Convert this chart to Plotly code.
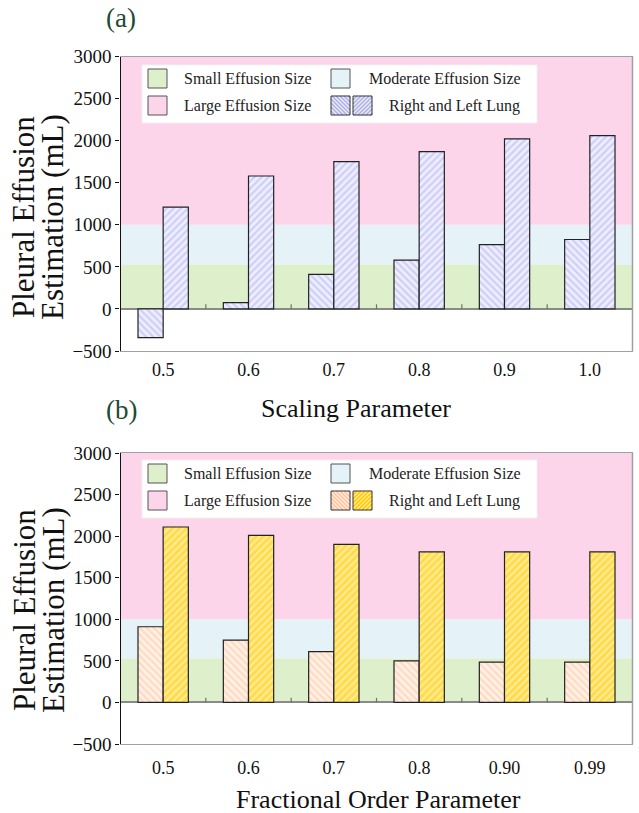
import plotly.graph_objects as go

# ---------------- data ----------------
scaling_cats = ["0.5", "0.6", "0.7", "0.8", "0.9", "1.0"]
scaling_right = [-340, 75, 410, 580, 765, 825]
scaling_left = [1210, 1580, 1750, 1870, 2020, 2060]

frac_cats = ["0.5", "0.6", "0.7", "0.8", "0.90", "0.99"]
frac_right = [910, 750, 610, 500, 485, 485]
frac_left = [2110, 2010, 1900, 1810, 1810, 1810]

zone_edges = [0, 530, 1000, 3000]
zone_names = ["Small Effusion Size", "Moderate Effusion Size", "Large Effusion Size"]
zone_colors = ["#DEF0CB", "#E5F3F8", "#FDD5EB"]

y_range = [-500, 3000]
y_tick_step = 500

W, H = 639, 813
FONT = "Liberation Serif, Times New Roman, serif"


def px_x(p):
    return p / W


def px_y(p):
    return 1 - p / H


def clip_seg(ax_, ay_, bx_, by_, size):
    t0, t1 = 0.0, 1.0
    dx, dy = bx_ - ax_, by_ - ay_
    for pp, q in ((-dx, ax_), (dx, size - ax_), (-dy, ay_), (dy, size - ay_)):
        if pp == 0:
            if q < 0:
                return None
        else:
            r = q / pp
            if pp < 0:
                t0 = max(t0, r)
            else:
                t1 = min(t1, r)
    if t0 >= t1:
        return None
    return (ax_ + t0 * dx, ay_ + t0 * dy, ax_ + t1 * dx, ay_ + t1 * dy)


# panel geometry in pixels
PLOT_L, PLOT_R = 120.5, 632.5
panels = [
    dict(top=56.5, bottom=351, xa="x", ya="y", cats=scaling_cats,
         right=scaling_right, left=scaling_left,
         r_fg="#AFAFF0", r_bg="#EEEEFF", l_fg="#AFAFF0", l_bg="#EEEEFF", sol_l=0.45,
         label="(a)", label_y=18, xtitle="Scaling Parameter", xtitle_x=356, xtitle_y=409,
         ytitle_y=217, tickstand=2, leg_top=65),
    dict(top=453, bottom=744, xa="x2", ya="y2", cats=frac_cats,
         right=frac_right, left=frac_left,
         r_fg="#FFC29B", r_bg="#FFF1E6", l_fg="#FFC800", l_bg="#FFEE9A", sol_l=0.62,
         label="(b)", label_y=410, xtitle="Fractional Order Parameter", xtitle_x=378, xtitle_y=799,
         ytitle_y=610, tickstand=7, leg_top=460),
]

fig = go.Figure()
shapes = []
annotations = []

for i, p in enumerate(panels):
    sfx = "" if i == 0 else "2"
    xa, ya = p["xa"], p["ya"]
    fig.add_trace(go.Bar(
        x=p["cats"], y=p["right"], xaxis=xa, yaxis=ya, showlegend=False,
        marker=dict(color=p["r_bg"], line=dict(color="#222222", width=1.2),
                    pattern=dict(shape="\\", fgcolor=p["r_fg"], bgcolor=p["r_bg"],
                                 size=5, solidity=0.45)),
    ))
    fig.add_trace(go.Bar(
        x=p["cats"], y=p["left"], xaxis=xa, yaxis=ya, showlegend=False,
        marker=dict(color=p["l_bg"], line=dict(color="#222222", width=1.2),
                    pattern=dict(shape="/", fgcolor=p["l_fg"], bgcolor=p["l_bg"],
                                 size=5, solidity=p["sol_l"])),
    ))

    dom_y = [px_y(p["bottom"]), px_y(p["top"])]
    fig.layout["xaxis" + sfx] = dict(
        domain=[px_x(PLOT_L), px_x(PLOT_R)], anchor=ya, type="category",
        categoryorder="array", categoryarray=p["cats"],
        showline=True, mirror=True, linecolor="#A0A0A0", linewidth=1,
        ticks="", showgrid=False, ticklabelstandoff=p["tickstand"],
        tickfont=dict(family=FONT, size=18, color="#111111"), automargin=False,
    )
    fig.layout["yaxis" + sfx] = dict(
        domain=dom_y, anchor=xa, range=y_range, dtick=y_tick_step, tick0=0,
        showline=True, linecolor="#111111", linewidth=1.2,
        ticks="outside", ticklen=4, tickcolor="#111111",
        showgrid=False, zeroline=True, zerolinecolor="#8A8A8A", zerolinewidth=1.5,
        tickfont=dict(family=FONT, size=19, color="#111111"), automargin=False,
    )

    # background zones
    for k in range(len(zone_names)):
        shapes.append(dict(type="rect", xref=xa + " domain", yref=ya,
                           x0=0, x1=1, y0=zone_edges[k], y1=zone_edges[k + 1],
                           fillcolor=zone_colors[k], line=dict(width=0), layer="below"))
    # right border
    shapes.append(dict(type="line", xref=xa + " domain", yref=ya + " domain",
                       x0=1, x1=1, y0=0, y1=1, line=dict(color="#A0A0A0", width=1.5),
                       layer="above"))
    # small ticks between categories on the zero line
    for j in range(len(p["cats"]) - 1):
        shapes.append(dict(type="line", xref=xa, yref=ya, x0=j + 0.5, x1=j + 0.5,
                           y0=0, y1=55, line=dict(color="#707070", width=1.2), layer="above"))

    # panel label
    annotations.append(dict(text=p["label"], xref="paper", yref="paper",
                            x=px_x(121), y=px_y(p["label_y"]), showarrow=False,
                            xanchor="center", yanchor="middle",
                            font=dict(family=FONT, size=27, color="#1F4A33")))
    # x title
    annotations.append(dict(text=p["xtitle"], xref="paper", yref="paper",
                            x=px_x(p["xtitle_x"]), y=px_y(p["xtitle_y"]), showarrow=False,
                            xanchor="center", yanchor="middle",
                            font=dict(family=FONT, size=26, color="#111111")))
    # y title (two lines)
    for line_txt, cx in (("Pleural Effusion", 24), ("Estimation (mL)", 53)):
        annotations.append(dict(text=line_txt, xref="paper", yref="paper",
                                x=px_x(cx), y=px_y(p["ytitle_y"]), showarrow=False,
                                textangle=-90, xanchor="center", yanchor="middle",
                                font=dict(family=FONT, size=31, color="#111111")))

    # ---------- legend (drawn) ----------
    lt = p["leg_top"]
    shapes.append(dict(type="rect", xref="paper", yref="paper",
                       x0=px_x(142), x1=px_x(537), y0=px_y(lt + 58), y1=px_y(lt),
                       fillcolor="white", line=dict(color="#F0F0F0", width=1), layer="above"))
    row_c = [lt + 13.5, lt + 40.5]
    sw = 19
    swatches = [(148, row_c[0], 0), (331, row_c[0], 1), (148, row_c[1], 2)]
    for sx, cy, k in swatches:
        shapes.append(dict(type="rect", xref="paper", yref="paper",
                           x0=px_x(sx), x1=px_x(sx + sw), y0=px_y(cy + sw / 2), y1=px_y(cy - sw / 2),
                           fillcolor=zone_colors[k], line=dict(color="#555555", width=1),
                           layer="above"))
    text_pos = [(182, row_c[0]), (367, row_c[0]), (182, row_c[1])]
    for (tx, ty), name in zip(text_pos, zone_names):
        annotations.append(dict(text=name, xref="paper", yref="paper", x=px_x(tx), y=px_y(ty),
                                showarrow=False, xanchor="left", yanchor="middle",
                                font=dict(family=FONT, size=16, color="#222222")))
    annotations.append(dict(text="Right and Left Lung", xref="paper", yref="paper",
                            x=px_x(387), y=px_y(row_c[1]), showarrow=False,
                            xanchor="left", yanchor="middle",
                            font=dict(family=FONT, size=16, color="#222222")))
    # hatched swatches
    for sx, direction, fg, bg in ((331, "\\", p["r_fg"], p["r_bg"]), (353, "/", p["l_fg"], p["l_bg"])):
        y0, y1 = row_c[1] - sw / 2, row_c[1] + sw / 2
        shapes.append(dict(type="rect", xref="paper", yref="paper",
                           x0=px_x(sx), x1=px_x(sx + sw), y0=px_y(y1), y1=px_y(y0),
                           fillcolor=bg, line=dict(width=0), layer="above"))
        segs = []
        step = 4
        off = -sw
        while off < sw:
            if direction == "\\":
                a_pt, b_pt = (0, -off), (sw, sw - off)
            else:
                a_pt, b_pt = (0, sw + off), (sw, off)
            c = clip_seg(a_pt[0], a_pt[1], b_pt[0], b_pt[1], sw)
            if c:
                x_a, y_a, x_b, y_b = c
                segs.append("M{:.5f},{:.5f} L{:.5f},{:.5f}".format(
                    px_x(sx + x_a), px_y(y0 + y_a), px_x(sx + x_b), px_y(y0 + y_b)))
            off += step
        shapes.append(dict(type="path", xref="paper", yref="paper", path=" ".join(segs),
                           line=dict(color=fg, width=1.6), layer="above"))
        shapes.append(dict(type="rect", xref="paper", yref="paper",
                           x0=px_x(sx), x1=px_x(sx + sw), y0=px_y(y1), y1=px_y(y0),
                           line=dict(color="#333333", width=1), layer="above"))

fig.update_layout(
    width=W, height=H, margin=dict(l=0, r=0, t=0, b=0, autoexpand=False),
    paper_bgcolor="white", plot_bgcolor="white",
    barmode="group", bargap=0.41, bargroupgap=0,
    shapes=shapes, annotations=annotations, showlegend=False,
    font=dict(family=FONT),
)

post = """
document.documentElement.style.margin='0';
document.documentElement.style.padding='0';
document.documentElement.style.overflow='hidden';
document.body.style.margin='0';
document.body.style.padding='0';
document.body.style.overflow='hidden';
var gd = document.getElementById('{plot_id}');
gd.style.position='fixed';
gd.style.left='0px';
gd.style.top='0px';
"""

fig.write_html("out.html", post_script=post, config={"displayModeBar": False})
